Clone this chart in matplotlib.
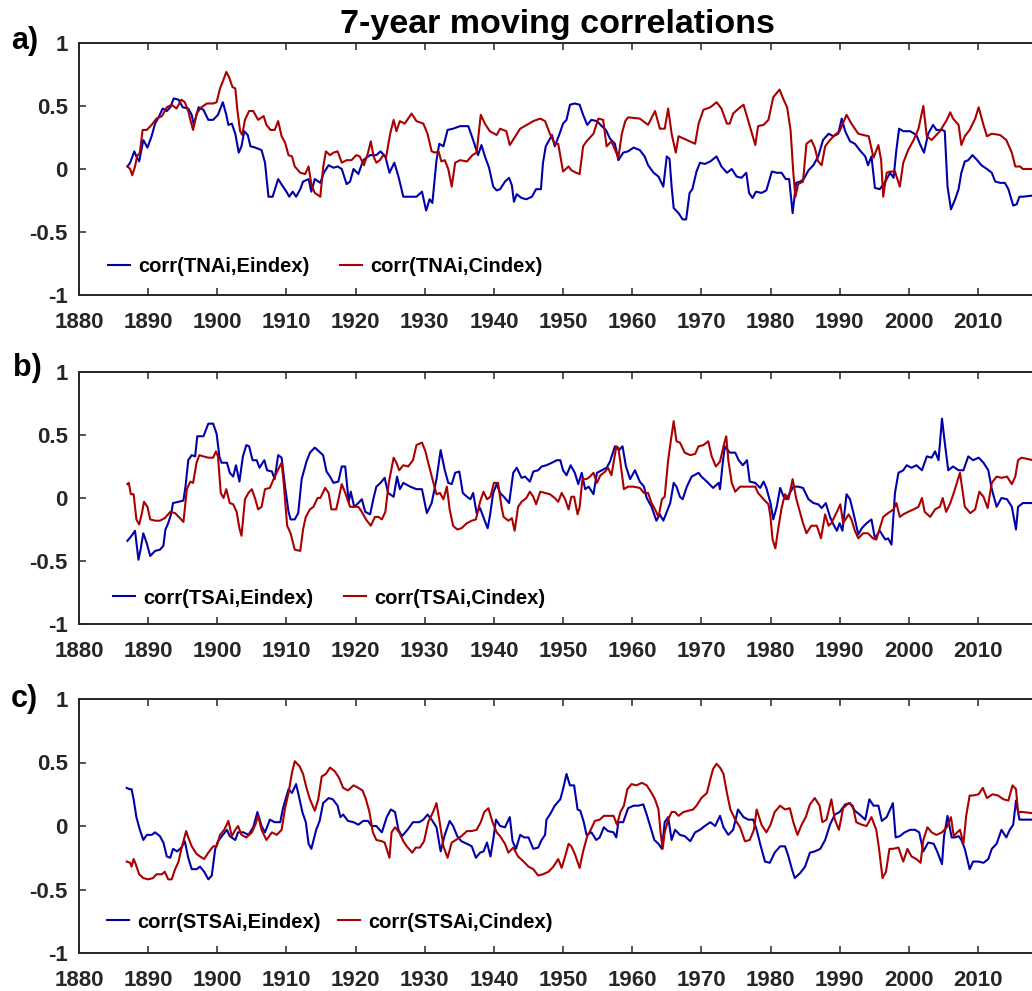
import matplotlib
matplotlib.use("Agg")
import matplotlib.pyplot as plt
import numpy as np

plt.rcParams['font.family'] = ['Liberation Sans', 'DejaVu Sans']
plt.rcParams['font.weight'] = 'bold'

# 7-year moving correlations, (year, r) pairs
tna_e = [(1887.0, 0.02), (1887.4, 0.05), (1888.0, 0.14), (1888.3, 0.10), (1888.7, 0.06), (1889.3, 0.23),
         (1889.9, 0.17), (1890.5, 0.26), (1891.0, 0.36), (1891.6, 0.42), (1892.1, 0.48), (1892.7, 0.46),
         (1893.2, 0.49), (1893.7, 0.56), (1894.4, 0.55), (1895.0, 0.49), (1895.8, 0.48), (1896.3, 0.43),
         (1896.6, 0.35), (1897.3, 0.49), (1898.0, 0.47), (1898.7, 0.39), (1899.4, 0.39), (1900.1, 0.43),
         (1900.8, 0.53), (1901.3, 0.43), (1901.6, 0.35), (1902.1, 0.36), (1902.6, 0.28), (1903.1, 0.13),
         (1903.5, 0.18), (1903.9, 0.30), (1904.4, 0.27), (1904.8, 0.18), (1905.5, 0.17), (1906.4, 0.15),
         (1906.9, 0.05), (1907.4, -0.22), (1908.0, -0.22), (1908.8, -0.08), (1909.5, -0.14), (1910.0, -0.18),
         (1910.4, -0.22), (1910.9, -0.18), (1911.4, -0.22), (1912.0, -0.16), (1912.4, -0.10), (1913.2, -0.08),
         (1913.6, -0.18), (1914.1, -0.08), (1914.9, -0.11), (1915.4, -0.03), (1916.1, 0.03), (1916.8, 0.01),
         (1917.4, 0.02), (1918.0, 0.00), (1918.7, -0.12), (1919.2, -0.10), (1919.7, 0.00), (1920.4, -0.04),
         (1921.1, 0.07), (1922.1, 0.11), (1923.0, 0.11), (1923.6, 0.14), (1924.3, 0.10), (1924.9, -0.03),
         (1925.6, 0.05), (1926.2, -0.06), (1926.9, -0.22), (1927.9, -0.22), (1928.8, -0.22), (1929.6, -0.18),
         (1930.2, -0.33), (1930.7, -0.24), (1931.1, -0.27), (1931.7, 0.07), (1932.1, 0.20), (1932.7, 0.18),
         (1933.3, 0.31), (1934.1, 0.32), (1935.1, 0.34), (1936.3, 0.34), (1937.0, 0.23), (1937.7, 0.11),
         (1938.2, 0.19), (1938.7, 0.10), (1939.3, 0.01), (1939.9, -0.14), (1940.4, -0.17), (1940.9, -0.16),
         (1941.6, -0.10), (1942.2, -0.07), (1942.6, -0.13), (1942.9, -0.26), (1943.3, -0.20), (1944.0, -0.23),
         (1944.7, -0.24), (1945.5, -0.22), (1946.1, -0.16), (1946.8, -0.16), (1947.1, 0.05), (1947.5, 0.18),
         (1948.0, 0.23), (1948.4, 0.27), (1948.8, 0.18), (1949.5, 0.28), (1950.0, 0.36), (1950.5, 0.39),
         (1951.0, 0.51), (1951.7, 0.52), (1952.4, 0.51), (1952.9, 0.43), (1953.5, 0.35), (1954.1, 0.39),
         (1954.9, 0.38), (1955.6, 0.34), (1956.2, 0.31), (1956.8, 0.24), (1957.5, 0.20), (1958.0, 0.07),
         (1958.7, 0.13), (1959.4, 0.14), (1960.2, 0.17), (1961.1, 0.15), (1961.8, 0.10), (1962.3, 0.03),
         (1963.1, -0.03), (1963.8, -0.06), (1964.5, -0.14), (1965.0, 0.10), (1965.4, 0.08), (1965.7, -0.14),
         (1966.0, -0.31), (1966.7, -0.35), (1967.3, -0.40), (1967.8, -0.40), (1968.3, -0.19), (1968.7, -0.16),
         (1969.3, -0.02), (1969.8, 0.05), (1970.5, 0.04), (1971.3, 0.06), (1972.2, 0.10), (1972.9, 0.02),
         (1973.7, -0.03), (1974.4, 0.00), (1975.1, -0.06), (1975.8, -0.07), (1976.5, -0.03), (1976.9, -0.19),
         (1977.4, -0.23), (1977.9, -0.18), (1978.7, -0.19), (1979.4, -0.17), (1980.2, -0.02), (1980.9, -0.03),
         (1981.6, -0.03), (1982.2, -0.08), (1982.7, -0.08), (1983.2, -0.35), (1983.7, -0.11), (1984.3, -0.10),
         (1984.8, -0.08), (1985.5, -0.01), (1986.2, 0.03), (1986.9, 0.10), (1987.6, 0.23), (1988.4, 0.28),
         (1989.1, 0.26), (1989.8, 0.28), (1990.3, 0.40), (1990.8, 0.30), (1991.5, 0.22), (1992.2, 0.20),
         (1992.9, 0.15), (1993.7, 0.10), (1994.1, 0.03), (1994.6, 0.10), (1995.1, -0.15), (1995.8, -0.16),
         (1996.6, -0.10), (1997.3, -0.03), (1997.8, -0.07), (1998.2, 0.15), (1998.6, 0.32), (1999.2, 0.30),
         (2000.2, 0.30), (2001.1, 0.27), (2001.6, 0.20), (2002.2, 0.13), (2002.8, 0.28), (2003.5, 0.35),
         (2004.0, 0.31), (2004.8, 0.31), (2005.2, 0.30), (2005.6, -0.14), (2006.1, -0.32), (2006.7, -0.24),
         (2007.2, -0.16), (2007.6, -0.03), (2008.1, 0.06), (2008.6, 0.07), (2009.2, 0.11), (2009.9, 0.07),
         (2010.5, 0.03), (2011.3, 0.00), (2012.0, -0.03), (2012.5, -0.10), (2013.2, -0.11), (2013.9, -0.11),
         (2014.4, -0.16), (2015.1, -0.29), (2015.6, -0.28), (2016.0, -0.22), (2016.5, -0.22), (2018.0, -0.21)]

tna_c = [(1887.0, 0.02), (1887.4, 0.00), (1887.7, -0.05), (1888.1, 0.02), (1888.4, 0.10), (1888.8, 0.13),
         (1889.2, 0.31), (1889.8, 0.31), (1890.5, 0.35), (1891.2, 0.40), (1892.0, 0.42), (1892.7, 0.49),
         (1893.4, 0.51), (1894.1, 0.48), (1894.8, 0.55), (1895.3, 0.53), (1895.8, 0.46), (1896.1, 0.39),
         (1896.5, 0.31), (1897.0, 0.44), (1897.7, 0.49), (1898.5, 0.52), (1899.4, 0.52), (1899.9, 0.53),
         (1900.4, 0.64), (1900.9, 0.71), (1901.3, 0.77), (1901.7, 0.73), (1902.2, 0.65), (1902.6, 0.64),
         (1902.9, 0.47), (1903.3, 0.30), (1903.6, 0.27), (1904.0, 0.39), (1904.6, 0.46), (1905.2, 0.46),
         (1905.9, 0.39), (1906.7, 0.42), (1907.1, 0.35), (1907.7, 0.31), (1908.3, 0.31), (1908.8, 0.38),
         (1909.3, 0.26), (1909.8, 0.21), (1910.3, 0.11), (1910.8, 0.10), (1911.2, 0.02), (1912.0, -0.03),
         (1912.7, -0.04), (1913.2, 0.02), (1913.6, -0.12), (1914.1, -0.19), (1914.9, -0.22), (1915.3, 0.01),
         (1915.7, 0.14), (1916.3, 0.11), (1916.8, 0.13), (1917.4, 0.14), (1918.0, 0.05), (1918.7, 0.07),
         (1919.4, 0.07), (1920.1, 0.11), (1920.6, 0.10), (1921.2, 0.03), (1921.8, 0.13), (1922.2, 0.22),
         (1922.6, 0.10), (1923.0, 0.05), (1923.5, 0.07), (1924.0, 0.11), (1924.4, 0.09), (1925.0, 0.28),
         (1925.5, 0.39), (1925.9, 0.30), (1926.4, 0.38), (1927.1, 0.36), (1928.1, 0.44), (1928.8, 0.38),
         (1929.8, 0.36), (1930.4, 0.28), (1931.0, 0.14), (1931.5, 0.13), (1932.0, 0.14), (1932.4, 0.06),
         (1932.9, 0.07), (1933.4, 0.00), (1933.9, -0.14), (1934.4, 0.05), (1935.1, 0.07), (1936.1, 0.06),
         (1936.9, 0.11), (1937.5, 0.13), (1938.1, 0.43), (1938.7, 0.36), (1939.4, 0.30), (1940.4, 0.27),
         (1940.9, 0.32), (1941.8, 0.30), (1942.3, 0.19), (1943.8, 0.32), (1945.7, 0.38), (1946.7, 0.40),
         (1947.4, 0.38), (1948.1, 0.28), (1948.8, 0.20), (1949.3, 0.20), (1950.0, -0.02), (1950.8, 0.02),
         (1951.2, -0.01), (1951.9, -0.03), (1952.4, -0.04), (1952.9, 0.18), (1953.4, 0.22), (1954.4, 0.28),
         (1955.1, 0.40), (1955.8, 0.39), (1956.3, 0.18), (1957.0, 0.22), (1958.0, 0.09), (1958.5, 0.28),
         (1959.0, 0.38), (1959.4, 0.41), (1961.1, 0.40), (1962.3, 0.35), (1963.3, 0.46), (1964.0, 0.32),
         (1964.7, 0.32), (1965.2, 0.48), (1965.7, 0.28), (1966.3, 0.13), (1966.7, 0.26), (1967.9, 0.23),
         (1969.1, 0.20), (1969.6, 0.36), (1970.3, 0.47), (1971.3, 0.49), (1972.2, 0.53), (1972.9, 0.48),
         (1973.7, 0.36), (1974.1, 0.36), (1974.6, 0.44), (1975.4, 0.48), (1976.1, 0.51), (1976.8, 0.38),
         (1977.8, 0.19), (1978.2, 0.34), (1979.0, 0.35), (1979.7, 0.39), (1980.4, 0.57), (1981.3, 0.63),
         (1981.9, 0.55), (1982.4, 0.49), (1982.9, 0.31), (1983.3, -0.03), (1983.6, -0.22), (1984.0, -0.12),
         (1984.7, -0.10), (1985.2, 0.20), (1985.9, 0.23), (1986.4, 0.17), (1986.9, 0.06), (1987.4, 0.03),
         (1987.9, 0.18), (1988.6, 0.23), (1989.3, 0.27), (1990.0, 0.30), (1991.0, 0.43), (1991.7, 0.36),
         (1992.7, 0.28), (1993.4, 0.27), (1994.2, 0.26), (1994.9, 0.09), (1995.6, 0.19), (1996.0, 0.07),
         (1996.3, -0.22), (1996.8, -0.03), (1997.3, -0.02), (1998.0, -0.02), (1998.7, -0.14), (1999.2, 0.05),
         (1999.9, 0.15), (2000.7, 0.23), (2001.4, 0.32), (2002.1, 0.50), (2002.6, 0.26), (2003.3, 0.23),
         (2004.5, 0.30), (2005.5, 0.39), (2006.0, 0.45), (2006.4, 0.40), (2007.2, 0.35), (2007.6, 0.19),
         (2008.1, 0.26), (2008.8, 0.31), (2009.6, 0.40), (2010.1, 0.49), (2010.8, 0.35), (2011.3, 0.26),
         (2012.0, 0.28), (2013.2, 0.27), (2014.1, 0.23), (2014.9, 0.13), (2015.4, 0.02), (2016.1, 0.02),
         (2016.5, 0.00), (2018.0, 0.00)]

tsa_e = [(1887.0, -0.34), (1887.6, -0.30), (1888.1, -0.26), (1888.6, -0.49), (1888.9, -0.41), (1889.3, -0.28),
         (1889.8, -0.36), (1890.3, -0.46), (1891.0, -0.42), (1891.7, -0.41), (1892.2, -0.38), (1892.5, -0.25),
         (1892.9, -0.20), (1893.3, -0.13), (1893.6, -0.04), (1894.4, -0.03), (1895.1, -0.02), (1895.4, 0.09),
         (1895.8, 0.30), (1896.3, 0.34), (1896.8, 0.33), (1897.1, 0.49), (1898.0, 0.49), (1898.7, 0.59),
         (1899.4, 0.59), (1899.9, 0.51), (1900.3, 0.33), (1900.6, 0.28), (1901.4, 0.28), (1901.8, 0.20),
         (1902.3, 0.17), (1902.7, 0.26), (1903.2, 0.13), (1903.7, 0.33), (1904.2, 0.42), (1904.6, 0.41),
         (1905.1, 0.30), (1905.7, 0.30), (1906.1, 0.24), (1906.8, 0.30), (1907.2, 0.22), (1907.9, 0.21),
         (1908.3, 0.15), (1908.8, 0.34), (1909.3, 0.32), (1909.8, 0.09), (1910.3, -0.11), (1910.6, -0.17),
         (1911.2, -0.17), (1911.7, -0.12), (1912.2, 0.15), (1912.9, 0.29), (1913.4, 0.36), (1914.1, 0.40),
         (1914.9, 0.36), (1915.3, 0.34), (1915.8, 0.21), (1916.3, 0.17), (1916.8, 0.12), (1917.5, 0.13),
         (1918.0, 0.25), (1918.5, 0.25), (1919.0, -0.03), (1919.3, 0.05), (1919.8, -0.07), (1920.4, -0.04),
         (1920.9, -0.01), (1921.4, -0.11), (1922.1, -0.13), (1922.6, 0.00), (1923.0, 0.09), (1923.6, 0.12),
         (1924.2, 0.16), (1924.7, 0.04), (1925.5, 0.01), (1926.0, 0.17), (1926.4, 0.07), (1926.9, 0.12),
         (1927.9, 0.09), (1928.8, 0.07), (1929.6, 0.07), (1930.3, -0.12), (1931.0, -0.04), (1931.7, 0.15),
         (1932.3, 0.38), (1932.9, 0.22), (1933.4, 0.12), (1933.9, 0.11), (1934.4, 0.20), (1935.0, 0.21),
         (1935.5, 0.04), (1936.1, 0.01), (1936.6, -0.01), (1937.0, 0.04), (1937.5, -0.12), (1938.0, -0.08),
         (1938.6, -0.17), (1939.1, -0.24), (1939.4, -0.15), (1939.9, 0.04), (1940.4, 0.11), (1940.9, 0.04),
         (1941.6, 0.00), (1942.2, -0.04), (1942.8, 0.20), (1943.3, 0.24), (1944.0, 0.16), (1944.5, 0.17),
         (1945.2, 0.13), (1945.7, 0.21), (1946.4, 0.22), (1946.9, 0.25), (1947.6, 0.26), (1948.4, 0.28),
         (1949.1, 0.30), (1949.6, 0.30), (1950.0, 0.22), (1950.5, 0.18), (1951.1, 0.26), (1951.7, 0.20),
         (1952.2, 0.11), (1952.7, 0.20), (1953.2, 0.07), (1953.7, 0.09), (1954.4, 0.03), (1954.9, 0.20),
         (1955.6, 0.22), (1956.3, 0.24), (1956.8, 0.29), (1957.5, 0.41), (1958.1, 0.38), (1958.6, 0.41),
         (1959.1, 0.25), (1959.7, 0.15), (1960.4, 0.22), (1961.1, 0.13), (1961.7, 0.09), (1962.1, 0.00),
         (1962.8, -0.07), (1963.5, -0.18), (1964.0, -0.13), (1964.5, -0.18), (1965.0, -0.11), (1965.5, -0.04),
         (1966.0, 0.12), (1966.4, 0.09), (1966.9, 0.01), (1967.3, -0.01), (1967.9, 0.09), (1968.6, 0.17),
         (1969.6, 0.20), (1970.0, 0.17), (1970.8, 0.13), (1971.7, 0.08), (1972.5, 0.12), (1972.7, 0.07),
         (1973.1, 0.28), (1973.4, 0.41), (1974.1, 0.36), (1974.9, 0.36), (1975.4, 0.30), (1976.0, 0.26),
         (1976.6, 0.30), (1977.0, 0.13), (1977.8, 0.12), (1978.5, 0.08), (1979.0, 0.13), (1979.4, 0.08),
         (1980.0, -0.04), (1980.4, -0.17), (1980.9, -0.07), (1981.4, 0.08), (1981.9, 0.01), (1982.3, -0.01),
         (1982.8, 0.04), (1983.3, 0.09), (1984.0, 0.09), (1984.7, 0.08), (1985.5, -0.01), (1986.2, -0.04),
         (1986.9, -0.05), (1987.4, -0.08), (1988.0, -0.04), (1988.6, -0.15), (1989.1, -0.21), (1989.6, -0.26),
         (1990.0, -0.20), (1990.4, -0.26), (1991.0, 0.03), (1991.5, -0.01), (1992.0, -0.12), (1992.7, -0.29),
         (1993.2, -0.24), (1993.9, -0.20), (1994.6, -0.17), (1995.1, -0.32), (1995.8, -0.26), (1996.6, -0.33),
         (1997.0, -0.32), (1997.5, -0.37), (1998.0, 0.04), (1998.5, 0.20), (1999.2, 0.22), (1999.7, 0.26),
         (2000.4, 0.24), (2001.1, 0.26), (2001.9, 0.22), (2002.6, 0.33), (2003.3, 0.32), (2003.8, 0.37),
         (2004.3, 0.30), (2004.8, 0.63), (2005.2, 0.44), (2005.7, 0.22), (2006.4, 0.25), (2007.2, 0.22),
         (2007.9, 0.22), (2008.6, 0.33), (2009.3, 0.30), (2010.1, 0.32), (2010.8, 0.28), (2011.5, 0.22),
         (2012.0, 0.07), (2012.7, -0.07), (2013.4, 0.00), (2014.2, -0.01), (2014.9, -0.07), (2015.5, -0.25),
         (2015.8, -0.07), (2016.5, -0.04), (2018.0, -0.04)]

tsa_c = [(1887.0, 0.11), (1887.2, 0.12), (1887.5, 0.03), (1887.9, 0.03), (1888.3, -0.17), (1888.7, -0.21),
         (1889.1, -0.12), (1889.4, -0.03), (1889.9, -0.07), (1890.3, -0.17), (1891.0, -0.18), (1891.7, -0.18),
         (1892.4, -0.16), (1893.2, -0.11), (1893.9, -0.12), (1894.6, -0.16), (1895.1, -0.19), (1895.6, 0.07),
         (1896.1, 0.13), (1896.5, 0.12), (1897.0, 0.28), (1897.4, 0.34), (1898.0, 0.33), (1898.7, 0.32),
         (1899.4, 0.32), (1899.8, 0.37), (1900.1, 0.33), (1900.5, 0.04), (1900.9, 0.00), (1901.3, 0.07),
         (1901.8, -0.04), (1902.3, -0.05), (1902.8, -0.11), (1903.2, -0.24), (1903.5, -0.30), (1904.0, -0.01),
         (1904.5, 0.04), (1905.0, 0.07), (1905.5, -0.01), (1905.9, -0.09), (1906.4, -0.07), (1906.9, 0.07),
         (1907.6, 0.08), (1908.3, 0.17), (1909.3, 0.28), (1909.6, 0.12), (1910.1, -0.22), (1910.6, -0.28),
         (1911.2, -0.41), (1912.0, -0.42), (1912.4, -0.25), (1912.8, -0.15), (1913.4, -0.09), (1913.9, -0.07),
         (1914.5, 0.00), (1914.9, 0.00), (1915.6, 0.08), (1916.1, 0.04), (1916.5, -0.09), (1917.2, -0.09),
         (1917.6, 0.01), (1918.0, 0.11), (1918.5, 0.04), (1919.2, -0.07), (1919.7, -0.07), (1920.4, -0.07),
         (1920.9, -0.11), (1921.5, -0.17), (1922.2, -0.22), (1922.8, -0.15), (1923.3, -0.15), (1923.8, -0.17),
         (1924.3, -0.11), (1924.8, 0.12), (1925.5, 0.32), (1925.9, 0.28), (1926.3, 0.22), (1926.9, 0.26),
         (1927.6, 0.25), (1928.3, 0.30), (1928.8, 0.42), (1929.6, 0.44), (1930.1, 0.37), (1930.5, 0.28),
         (1931.3, 0.11), (1931.7, 0.03), (1932.2, 0.04), (1932.7, -0.01), (1933.2, 0.09), (1933.6, -0.09),
         (1934.1, -0.22), (1934.7, -0.25), (1935.3, -0.24), (1936.1, -0.20), (1936.8, -0.18), (1937.4, -0.17),
         (1938.0, -0.03), (1938.5, 0.05), (1939.0, -0.01), (1939.5, 0.01), (1940.0, 0.12), (1940.6, 0.12),
         (1941.1, -0.07), (1941.4, -0.15), (1942.1, -0.18), (1942.6, -0.16), (1943.0, -0.26), (1943.5, -0.07),
         (1944.0, -0.03), (1944.7, 0.00), (1945.2, 0.05), (1945.7, 0.01), (1946.1, -0.05), (1946.7, 0.05),
         (1947.4, 0.04), (1948.1, 0.03), (1948.8, 0.00), (1949.3, -0.03), (1949.8, 0.04), (1950.3, -0.01),
         (1950.8, -0.09), (1951.2, 0.01), (1951.6, 0.01), (1952.1, -0.13), (1952.4, -0.07), (1952.8, 0.15),
         (1953.4, 0.15), (1953.9, 0.17), (1954.4, 0.20), (1954.9, 0.12), (1955.4, 0.18), (1956.1, 0.21),
         (1956.5, 0.24), (1957.0, 0.18), (1957.7, 0.41), (1958.0, 0.40), (1958.3, 0.28), (1958.8, 0.07),
         (1959.4, 0.09), (1960.2, 0.09), (1961.1, 0.08), (1961.7, 0.04), (1962.3, 0.04), (1962.8, -0.04),
         (1963.3, -0.09), (1963.8, -0.15), (1964.3, -0.01), (1964.7, 0.01), (1965.2, 0.30), (1965.6, 0.46),
         (1966.0, 0.61), (1966.4, 0.45), (1966.9, 0.44), (1967.6, 0.36), (1968.4, 0.34), (1969.1, 0.35),
         (1969.6, 0.41), (1970.3, 0.42), (1971.0, 0.45), (1971.5, 0.33), (1972.1, 0.25), (1972.7, 0.29),
         (1973.2, 0.41), (1973.6, 0.49), (1973.9, 0.30), (1974.4, 0.12), (1974.9, 0.05), (1975.6, 0.09),
         (1976.3, 0.09), (1977.0, 0.09), (1977.8, 0.09), (1978.2, 0.04), (1979.0, -0.01), (1979.7, -0.05),
         (1980.0, -0.15), (1980.3, -0.33), (1980.7, -0.40), (1981.1, -0.25), (1981.6, -0.08), (1982.1, 0.03),
         (1982.6, -0.01), (1983.2, 0.15), (1983.7, 0.00), (1984.3, -0.12), (1984.7, -0.20), (1985.2, -0.28),
         (1985.9, -0.22), (1986.7, -0.22), (1987.3, -0.32), (1987.9, -0.13), (1988.4, -0.22), (1988.8, -0.20),
         (1989.6, -0.11), (1990.1, -0.05), (1990.5, -0.20), (1991.3, -0.13), (1991.7, -0.17), (1992.2, -0.26),
         (1992.7, -0.32), (1993.4, -0.28), (1994.1, -0.28), (1994.8, -0.32), (1995.3, -0.33), (1995.8, -0.24),
         (1996.3, -0.15), (1997.0, -0.12), (1997.8, -0.09), (1998.2, -0.04), (1998.7, -0.15), (1999.2, -0.13),
         (1999.9, -0.11), (2000.7, -0.09), (2001.4, -0.07), (2001.9, 0.00), (2002.3, -0.11), (2003.1, -0.15),
         (2003.8, -0.09), (2004.5, -0.07), (2004.9, 0.00), (2005.4, -0.11), (2006.0, -0.04), (2006.5, 0.04),
         (2007.4, 0.20), (2008.1, -0.07), (2008.9, -0.12), (2009.6, -0.09), (2010.2, 0.05), (2010.8, 0.01),
         (2011.4, -0.08), (2012.0, 0.12), (2012.7, 0.17), (2013.4, 0.16), (2014.2, 0.17), (2014.9, 0.11),
         (2015.4, 0.17), (2015.8, 0.30), (2016.3, 0.32), (2018.0, 0.30)]

stsa_e = [(1886.9, 0.30), (1887.3, 0.29), (1887.6, 0.29), (1887.9, 0.21), (1888.3, 0.07), (1888.8, -0.03),
          (1889.3, -0.11), (1889.8, -0.07), (1890.5, -0.07), (1891.0, -0.05), (1891.7, -0.08), (1892.2, -0.13),
          (1892.7, -0.24), (1893.2, -0.25), (1893.6, -0.18), (1894.2, -0.20), (1894.8, -0.17), (1895.3, -0.12),
          (1895.8, -0.25), (1896.3, -0.34), (1897.0, -0.34), (1897.5, -0.32), (1898.1, -0.36), (1898.7, -0.42),
          (1899.2, -0.39), (1899.7, -0.18), (1900.1, -0.12), (1900.8, -0.07), (1901.4, -0.03), (1901.8, -0.08),
          (1902.6, -0.11), (1903.0, -0.05), (1903.8, -0.05), (1904.5, -0.07), (1905.2, -0.01), (1905.8, 0.11),
          (1906.4, 0.00), (1906.9, -0.05), (1907.6, 0.05), (1908.3, 0.03), (1909.1, 0.03), (1909.5, 0.14),
          (1910.3, 0.29), (1910.8, 0.26), (1911.4, 0.33), (1911.9, 0.21), (1912.3, 0.11), (1912.8, 0.03),
          (1913.2, -0.14), (1913.6, -0.18), (1914.3, -0.03), (1914.8, 0.04), (1915.3, 0.18), (1916.1, 0.22),
          (1916.7, 0.21), (1917.4, 0.16), (1917.8, 0.07), (1918.2, 0.09), (1918.9, 0.04), (1919.7, 0.03),
          (1920.4, 0.01), (1921.1, 0.04), (1921.8, 0.04), (1922.3, 0.00), (1923.0, 0.00), (1923.8, -0.05),
          (1924.5, 0.07), (1925.1, 0.13), (1925.7, 0.11), (1926.2, -0.03), (1926.7, -0.08), (1927.5, -0.03),
          (1928.3, 0.03), (1929.2, 0.03), (1929.8, 0.05), (1930.4, 0.09), (1931.0, 0.05), (1931.7, -0.01),
          (1932.3, -0.20), (1932.9, -0.07), (1933.6, 0.04), (1934.1, 0.00), (1934.7, -0.08), (1935.3, -0.12),
          (1936.1, -0.14), (1936.8, -0.16), (1937.4, -0.25), (1938.0, -0.21), (1938.5, -0.20), (1939.0, -0.13),
          (1939.5, -0.24), (1939.9, -0.11), (1940.3, 0.05), (1940.9, 0.00), (1941.6, -0.01), (1942.3, 0.07),
          (1942.7, -0.12), (1943.2, -0.18), (1943.8, -0.07), (1944.4, -0.09), (1945.0, -0.09), (1945.7, -0.18),
          (1946.4, -0.17), (1946.9, -0.11), (1947.4, -0.07), (1947.6, 0.05), (1948.1, 0.09), (1948.8, 0.16),
          (1949.6, 0.21), (1950.0, 0.29), (1950.5, 0.41), (1951.0, 0.32), (1951.6, 0.32), (1952.1, 0.13),
          (1952.5, 0.12), (1953.0, 0.03), (1953.4, -0.07), (1954.1, -0.05), (1954.8, -0.11), (1955.3, -0.09),
          (1955.9, -0.01), (1956.5, -0.04), (1957.3, -0.05), (1957.7, -0.09), (1958.0, 0.03), (1958.7, 0.03),
          (1959.4, 0.14), (1960.2, 0.16), (1960.9, 0.16), (1961.6, 0.17), (1962.1, 0.09), (1962.6, 0.00),
          (1963.2, -0.11), (1963.8, -0.14), (1964.3, -0.18), (1964.7, 0.03), (1965.2, 0.07), (1965.7, -0.11),
          (1966.2, -0.03), (1966.9, -0.07), (1967.6, -0.08), (1968.4, -0.12), (1969.1, -0.05), (1969.8, -0.03),
          (1970.5, 0.00), (1971.3, 0.03), (1972.0, 0.00), (1972.7, 0.08), (1973.2, -0.01), (1973.9, -0.07),
          (1974.6, -0.03), (1975.3, 0.13), (1976.1, 0.07), (1976.8, 0.05), (1977.5, 0.05), (1978.0, -0.03),
          (1978.5, -0.14), (1979.2, -0.28), (1979.9, -0.29), (1980.6, -0.21), (1981.4, -0.16), (1982.1, -0.16),
          (1982.6, -0.24), (1983.1, -0.34), (1983.5, -0.41), (1984.3, -0.37), (1985.0, -0.32), (1985.7, -0.21),
          (1986.4, -0.20), (1987.2, -0.18), (1987.9, -0.11), (1988.6, 0.01), (1989.3, 0.09), (1990.0, 0.11),
          (1990.8, 0.17), (1991.5, 0.18), (1992.2, 0.12), (1992.9, 0.09), (1993.7, 0.05), (1994.3, 0.21),
          (1994.9, 0.16), (1995.6, 0.16), (1996.1, 0.04), (1996.8, 0.07), (1997.7, 0.18), (1998.1, -0.09),
          (1998.7, -0.08), (1999.4, -0.05), (2000.2, -0.03), (2000.9, -0.03), (2001.5, -0.05), (2002.1, -0.20),
          (2002.8, -0.13), (2003.6, -0.14), (2004.1, -0.20), (2004.8, -0.30), (2005.1, -0.08), (2005.6, 0.08),
          (2006.2, -0.09), (2006.7, -0.09), (2007.2, -0.08), (2007.6, -0.11), (2008.1, -0.18), (2008.8, -0.34),
          (2009.3, -0.28), (2010.1, -0.28), (2010.8, -0.29), (2011.5, -0.26), (2012.0, -0.18), (2012.7, -0.14),
          (2013.4, -0.03), (2014.1, -0.09), (2014.6, -0.03), (2015.1, 0.01), (2015.5, 0.20), (2016.0, 0.05),
          (2016.5, 0.05), (2018.0, 0.05)]

stsa_c = [(1886.9, -0.28), (1887.4, -0.29), (1887.6, -0.32), (1887.9, -0.26), (1888.2, -0.30), (1888.7, -0.38),
          (1889.3, -0.41), (1890.0, -0.42), (1890.7, -0.41), (1891.2, -0.38), (1892.0, -0.38), (1892.4, -0.36),
          (1892.9, -0.42), (1893.4, -0.42), (1893.9, -0.34), (1894.4, -0.28), (1894.8, -0.18), (1895.5, -0.04),
          (1895.8, -0.09), (1896.3, -0.16), (1897.0, -0.22), (1897.5, -0.24), (1898.1, -0.26), (1898.7, -0.21),
          (1899.4, -0.16), (1899.9, -0.16), (1900.4, -0.07), (1901.0, -0.03), (1901.6, 0.04), (1902.1, -0.08),
          (1902.6, -0.03), (1903.0, 0.00), (1903.5, -0.07), (1904.2, -0.09), (1905.0, -0.05), (1905.5, 0.01),
          (1905.9, 0.08), (1906.4, -0.03), (1907.1, -0.11), (1907.9, -0.05), (1908.6, -0.07), (1909.3, -0.03),
          (1909.8, 0.14), (1910.3, 0.26), (1910.8, 0.42), (1911.2, 0.51), (1911.9, 0.47), (1912.4, 0.41),
          (1912.9, 0.30), (1913.4, 0.21), (1914.1, 0.12), (1914.6, 0.21), (1915.1, 0.39), (1915.7, 0.41),
          (1916.3, 0.46), (1917.0, 0.43), (1917.6, 0.38), (1918.2, 0.30), (1918.9, 0.28), (1919.7, 0.32),
          (1920.4, 0.30), (1921.0, 0.28), (1921.5, 0.21), (1922.0, 0.11), (1922.5, -0.05), (1923.0, -0.11),
          (1923.8, -0.12), (1924.2, -0.13), (1924.9, -0.25), (1925.2, -0.05), (1925.7, -0.01), (1926.3, -0.05),
          (1926.9, -0.12), (1927.4, -0.16), (1928.2, -0.21), (1928.7, -0.17), (1929.3, -0.17), (1929.9, -0.12),
          (1930.5, 0.03), (1931.2, 0.11), (1931.7, 0.18), (1932.1, 0.05), (1932.7, -0.16), (1933.3, -0.25),
          (1933.9, -0.13), (1934.5, -0.11), (1935.3, -0.08), (1936.1, -0.04), (1936.8, -0.04), (1937.5, -0.03),
          (1938.1, 0.03), (1938.6, 0.11), (1939.2, 0.14), (1939.8, 0.03), (1940.4, -0.05), (1940.9, -0.08),
          (1941.6, -0.14), (1942.1, -0.21), (1942.8, -0.17), (1943.5, -0.24), (1944.3, -0.28), (1945.0, -0.32),
          (1945.7, -0.34), (1946.4, -0.39), (1947.1, -0.38), (1947.9, -0.36), (1948.6, -0.32), (1949.3, -0.26),
          (1949.8, -0.33), (1950.3, -0.24), (1950.8, -0.14), (1951.2, -0.16), (1951.7, -0.22), (1952.4, -0.33),
          (1952.9, -0.20), (1953.5, -0.08), (1954.0, -0.03), (1954.6, 0.04), (1955.3, 0.05), (1955.9, 0.08),
          (1956.5, 0.08), (1957.3, 0.08), (1957.8, 0.01), (1958.3, 0.11), (1958.8, 0.16), (1959.3, 0.29),
          (1959.9, 0.33), (1960.6, 0.32), (1961.4, 0.34), (1962.1, 0.32), (1962.8, 0.26), (1963.3, 0.21),
          (1963.8, 0.13), (1964.1, -0.05), (1964.4, -0.18), (1964.7, -0.05), (1965.2, 0.05), (1965.7, 0.11),
          (1966.2, 0.11), (1966.7, 0.08), (1967.4, 0.11), (1968.1, 0.12), (1968.8, 0.13), (1969.3, 0.16),
          (1970.0, 0.22), (1970.8, 0.26), (1971.3, 0.37), (1971.7, 0.45), (1972.2, 0.49), (1972.7, 0.46),
          (1973.2, 0.41), (1973.7, 0.26), (1974.2, 0.13), (1974.9, 0.05), (1975.6, -0.01), (1976.3, -0.12),
          (1977.0, -0.11), (1977.6, -0.03), (1978.0, 0.13), (1978.7, 0.01), (1979.4, -0.05), (1980.0, 0.01),
          (1980.6, 0.11), (1981.4, 0.16), (1982.1, 0.13), (1982.8, 0.14), (1983.3, 0.03), (1983.9, -0.07),
          (1984.5, 0.01), (1985.1, 0.07), (1985.7, 0.17), (1986.4, 0.22), (1987.1, 0.16), (1987.5, 0.03),
          (1988.1, 0.05), (1988.8, 0.21), (1989.3, 0.05), (1989.9, -0.03), (1990.5, 0.14), (1991.3, 0.18),
          (1991.9, 0.16), (1992.4, 0.03), (1993.2, 0.01), (1993.9, 0.00), (1994.6, 0.07), (1995.3, -0.03),
          (1995.7, -0.18), (1996.2, -0.41), (1996.7, -0.36), (1997.2, -0.18), (1997.7, -0.18), (1998.5, -0.17),
          (1999.2, -0.28), (1999.8, -0.18), (2000.4, -0.24), (2001.1, -0.26), (2001.7, -0.29), (2002.1, -0.11),
          (2002.7, -0.01), (2003.3, -0.05), (2004.0, -0.07), (2004.8, -0.05), (2005.5, -0.01), (2006.1, 0.07),
          (2006.5, -0.08), (2007.0, -0.05), (2007.4, -0.03), (2007.9, -0.14), (2008.3, 0.08), (2008.8, 0.24),
          (2009.3, 0.24), (2010.1, 0.25), (2010.7, 0.30), (2011.3, 0.22), (2012.1, 0.25), (2012.9, 0.24),
          (2013.7, 0.21), (2014.4, 0.20), (2015.0, 0.32), (2015.5, 0.29), (2015.8, 0.11), (2016.5, 0.11),
          (2018.0, 0.10)]

panels = [
    ('a)', tna_e, tna_c, 'corr(TNAi,Eindex)', 'corr(TNAi,Cindex)'),
    ('b)', tsa_e, tsa_c, 'corr(TSAi,Eindex)', 'corr(TSAi,Cindex)'),
    ('c)', stsa_e, stsa_c, 'corr(STSAi,Eindex)', 'corr(STSAi,Cindex)'),
]

year_ticks = list(range(1880, 2011, 10))
r_ticks = [-1, -0.5, 0, 0.5, 1]
r_labels = ['-1', '-0.5', '0', '0.5', '1']

BLUE = '#0000AA'
RED = '#AA0000'
INK = '#262626'

W, H = 1032, 991
fig = plt.figure(figsize=(W / 100, H / 100), dpi=100)

# pixel layout: (axes top, axes bottom, legend x, legend y, col spacing, label x, label baseline)
layout = [
    (43, 295, 98, 267, 1.5, 11, 49),
    (372, 624, 103, 598, 1.5, 13, 376),
    (699, 953, 97, 922, 0.85, 11, 707),
]
ax_left = 79
px_per_year = 6.915
x0, x1 = 1880, 2020

for (lab, s_e, s_c, name_e, name_c), (top, bot, lx, ly, cs, tx, ty) in zip(panels, layout):
    ax = fig.add_axes([ax_left / W, 1 - bot / H, (x1 - x0) * px_per_year / W, (bot - top) / H])
    ye, ve = zip(*s_e)
    yc, vc = zip(*s_c)
    h1, = ax.plot(ye, ve, color=BLUE, lw=1.5)
    h2, = ax.plot(yc, vc, color=RED, lw=1.5)

    ax.set_xlim(x0, x1)
    ax.set_ylim(-1, 1)
    ax.set_xticks(year_ticks)
    ax.set_yticks(r_ticks)
    ax.set_yticklabels(r_labels)
    ax.tick_params(direction='in', top=True, right=True, length=5, width=1.1,
                   colors=INK, labelsize=16)
    ax.tick_params(axis='x', pad=12.5)
    ax.tick_params(axis='y', pad=8)
    for sp in ax.spines.values():
        sp.set_color(INK)
        sp.set_linewidth(1.4)

    ax.legend([h1, h2], [name_e, name_c], loc='center left',
              bbox_to_anchor=(lx / W, 1 - ly / H), bbox_transform=fig.transFigure,
              ncol=2, frameon=False, borderpad=0, handlelength=1.1,
              handletextpad=0.4, columnspacing=cs,
              prop={'weight': 'bold', 'size': 14.5})

    fig.text(tx / W, 1 - ty / H, lab, fontsize=22, fontweight='bold', va='baseline', ha='left')

fig.text(557 / W, 1 - 33 / H, '7-year moving correlations', fontsize=24.5,
         fontweight='bold', ha='center', va='baseline')

fig.savefig('out.png', dpi=100)
